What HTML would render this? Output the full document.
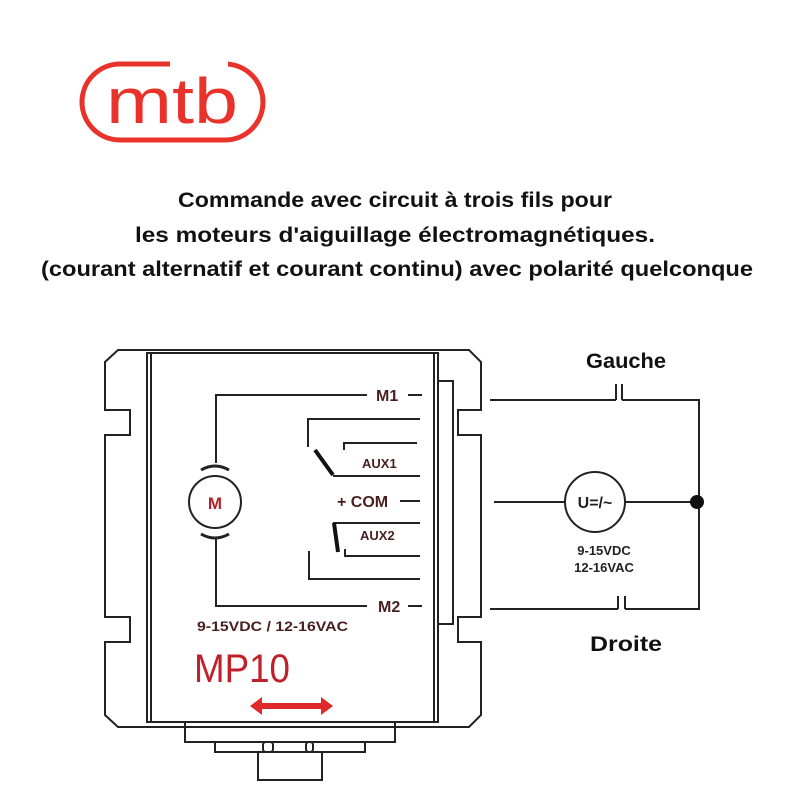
<!DOCTYPE html>
<html><head><meta charset="utf-8"><style>html,body{margin:0;padding:0;background:#fff}svg{display:block}</style></head><body>
<svg width="800" height="800" viewBox="0 0 800 800" xmlns="http://www.w3.org/2000/svg">
<rect width="800" height="800" fill="#fff"/>
<!-- logo -->
<path d="M120 64 H225 A38 38 0 0 1 225 140 H120 A38 38 0 0 1 120 64 Z" fill="none" stroke="#e8322a" stroke-width="5"/>
<rect x="170" y="58" width="58" height="10" fill="#fff"/>
<text x="172" y="123" font-family="Liberation Sans, sans-serif" font-size="64" fill="#e8322a" text-anchor="middle" textLength="132" lengthAdjust="spacingAndGlyphs">mtb</text>
<!-- title -->
<g font-family="Liberation Sans, sans-serif" font-weight="bold" font-size="21" fill="#111" text-anchor="middle">
<text x="395" y="207" textLength="434" lengthAdjust="spacingAndGlyphs">Commande avec circuit à trois fils pour</text>
<text x="395" y="242" textLength="520" lengthAdjust="spacingAndGlyphs">les moteurs d'aiguillage électromagnétiques.</text>
<text x="397" y="276" textLength="712" lengthAdjust="spacingAndGlyphs">(courant alternatif et courant continu) avec polarité quelconque</text>
<text x="626" y="368" textLength="80" lengthAdjust="spacingAndGlyphs">Gauche</text>
<text x="626" y="651" textLength="72" lengthAdjust="spacingAndGlyphs">Droite</text>
</g>
<!-- body -->
<g fill="none" stroke="#222" stroke-width="2">
<path d="M118 350 H469 L481 362 V410 H458 V435 H481 V617 H458 V642 H481 V715 L469 727 H118 L105 715 V642 H130 V617 H105 V435 H130 V410 H105 V362 Z"/>
<rect x="147" y="353" width="291" height="369"/>
<line x1="151" y1="353" x2="151" y2="722"/>
<line x1="434" y1="353" x2="434" y2="722"/>
<path d="M438 381 H453 V624 H438"/>
<path d="M185 722 V742 H395 V722"/>
<path d="M215 742 V752 H365 V742"/>
<path d="M258 752 V780 H322 V752"/>
<rect x="263" y="742" width="10" height="10" rx="3"/>
<rect x="306" y="742" width="7" height="10" rx="3"/>
<!-- motor wiring -->
<path d="M367 395 H216 V463"/>
<path d="M216 537 V606 H367"/>
<line x1="408" y1="395" x2="422" y2="395"/>
<line x1="408" y1="606" x2="422" y2="606"/>
<circle cx="215" cy="502" r="26"/>
<path d="M201 470 Q215 462 229 470" stroke-width="3"/>
<path d="M201 534 Q215 542 229 534" stroke-width="3"/>
<!-- aux -->
<path d="M420 419 H308 V447"/>
<path d="M417 443 H344 V450"/>
<path d="M333 476 H420"/>
<line x1="400" y1="501" x2="420" y2="501"/>
<path d="M333 523 H420"/>
<path d="M420 556 H345 V549"/>
<path d="M420 579 H309 V551"/>
<!-- external -->
<path d="M490 400 H616 M622 400 H699 V609 H625 M618 609 H490"/>
<line x1="616" y1="384" x2="616" y2="400"/>
<line x1="622" y1="384" x2="622" y2="400"/>
<line x1="618" y1="596" x2="618" y2="609"/>
<line x1="625" y1="596" x2="625" y2="609"/>
<path d="M494 502 H565 M625 502 H699"/>
<circle cx="595" cy="502" r="30"/>
</g>
<line x1="315" y1="450" x2="333" y2="475" stroke="#111" stroke-width="4"/>
<line x1="334" y1="523" x2="338" y2="552" stroke="#111" stroke-width="4"/>
<circle cx="697" cy="502" r="7" fill="#111"/>
<!-- labels -->
<g font-family="Liberation Sans, sans-serif" font-weight="bold" fill="#4a1e1e">
<text x="376" y="401" font-size="16">M1</text>
<text x="378" y="612" font-size="16">M2</text>
<text x="362" y="468" font-size="13">AUX1</text>
<text x="360" y="540" font-size="13">AUX2</text>
<text x="337" y="507" font-size="16">+ COM</text>
<text x="197" y="631" font-size="14" textLength="151" lengthAdjust="spacingAndGlyphs">9-15VDC / 12-16VAC</text>
<text x="215" y="509" font-size="17" fill="#b3202a" text-anchor="middle">M</text>
</g>
<g font-family="Liberation Sans, sans-serif" font-weight="bold" fill="#222" text-anchor="middle">
<text x="595" y="508" font-size="16">U=/~</text>
<text x="604" y="555" font-size="13">9-15VDC</text>
<text x="604" y="572" font-size="13">12-16VAC</text>
</g>
<text x="194" y="682" font-family="Liberation Sans, sans-serif" font-size="40" fill="#c0202a" textLength="96" lengthAdjust="spacingAndGlyphs">MP10</text>
<path d="M250 706 L262 697 V703 H321 V697 L333 706 L321 715 V709 H262 V715 Z" fill="#e02a2a"/>
</svg>
</body></html>
